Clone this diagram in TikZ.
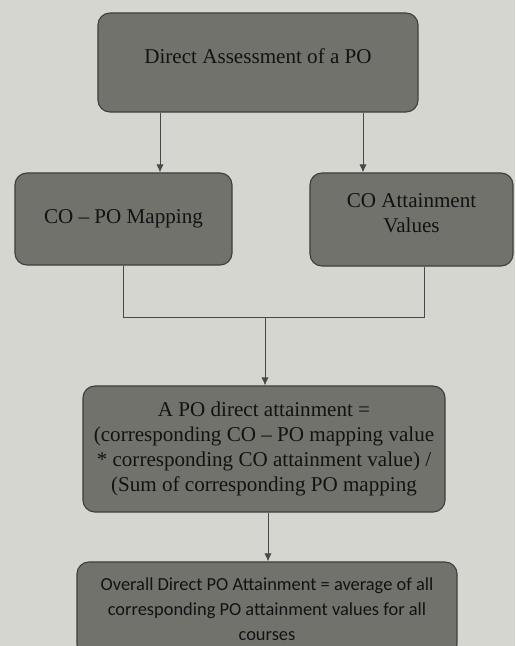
\documentclass[tikz,border=0pt]{standalone}
\usepackage{fontspec}
\setmainfont{Liberation Serif}
\newfontfamily\calibri{Carlito}
\usetikzlibrary{arrows.meta}
\definecolor{paper}{RGB}{214,214,208}
\definecolor{boxfill}{RGB}{114,114,109}
\definecolor{boxline}{RGB}{62,62,60}
\definecolor{wire}{RGB}{72,72,70}
\definecolor{ink}{RGB}{18,18,18}

\begin{document}
\begin{tikzpicture}[x=0.025cm,y=-0.025cm,
    serif/.style={text=ink,align=center,font=\fontsize{15}{17.8}\selectfont},
    blk/.style={draw=boxline,fill=boxfill,serif,rounded corners=0.3cm,
      line width=0.8pt,inner sep=0pt},
    hitext/.style={label={[serif,yshift=0.17cm]center:#1}},
    wire/.style={draw=wire,line width=0.7pt},
    arr/.style={wire,-{Latex[length=2mm,width=1.8mm]}}]
  % page and frame
  \fill[paper] (0,0) rectangle (515,646);
  \clip (0,0) rectangle (515,646);
  % boxes
  \node[blk,minimum width=8cm,minimum height=2.475cm,
    hitext={Direct Assessment of a PO}] (dap) at (258,62.5) {};
  \node[blk,minimum width=5.425cm,minimum height=2.3cm] (map) at (123.5,219)
    {CO -- PO Mapping};
  \node[blk,minimum width=5.075cm,minimum height=2.325cm,
    hitext={CO Attainment\\Values}] (att) at (411.5,219.5) {};
  \node[blk,minimum width=9.05cm,minimum height=3.15cm] (pda) at (264,449)
    {A PO direct attainment =\\
     (corresponding CO -- PO mapping value\\
     * corresponding CO attainment value) /\\
     (Sum of corresponding PO mapping};
  \node[blk,minimum width=9.5cm,minimum height=2.35cm,
    font=\calibri\fontsize{13.1}{17.8}\selectfont] (opa) at (267,609)
    {Overall Direct PO Attainment = average of all\\
     corresponding PO attainment values for all\\
     courses};
  % connectors
  \coordinate (join) at (265,317);
  \draw[arr] (dap.south -| 160,0) -- (map.north -| 160,0);
  \draw[arr] (dap.south -| 363,0) -- (att.north -| 363,0);
  \draw[wire] (map.south) |- (join);
  \draw[wire] (att.south -| 424,0) |- (join);
  \draw[arr] (join) -- (join |- pda.north);
  \draw[arr] (pda.south -| 268,0) -- (opa.north -| 268,0);
\end{tikzpicture}
\end{document}
